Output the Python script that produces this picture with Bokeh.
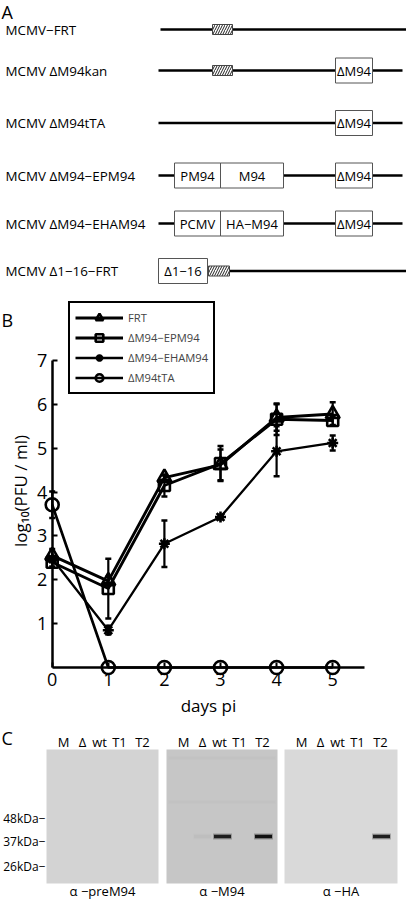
import numpy as np
from bokeh.plotting import figure
from bokeh.layouts import column
from bokeh.models import Range1d, Legend, LegendItem, LinearAxis, FixedTicker
from bokeh.core.properties import value
from bokeh.embed import file_html
from bokeh.resources import INLINE

FONT = "Open Sans"

# ---------------- data ----------------
# Panel A: constructs and their genetic elements
construct_names = ["MCMV\u2212FRT", "MCMV \u0394M94kan", "MCMV \u0394M94tTA",
                   "MCMV \u0394M94\u2212EPM94", "MCMV \u0394M94\u2212EHAM94", "MCMV \u03941\u221216\u2212FRT"]
element_labels = ["\u0394M94", "\u0394M94", "PM94", "M94", "\u0394M94",
                  "PCMV", "HA\u2212M94", "\u0394M94", "\u03941\u221216"]

# Panel B: growth curves, log10(PFU/ml) vs days pi
days = [0, 1, 2, 3, 4, 5]
frt = [2.55, 1.97, 4.33, 4.62, 5.70, 5.78]
frt_err = [0.15, 0.10, 0.05, 0.35, 0.30, 0.27]
epm94 = [2.40, 1.80, 4.15, 4.65, 5.66, 5.63]
epm94_err = [0.10, 0.68, 0.25, 0.40, 0.36, 0.10]
eham94 = [2.48, 0.85, 2.82, 3.43, 4.93, 5.12]
eham94_err = [0.05, 0.10, 0.53, 0.05, 0.57, 0.17]
tta = [3.71, 0.0, 0.0, 0.0, 0.0, 0.0]
tta_err = [0.30, 0.0, 0.0, 0.0, 0.0, 0.0]
series_names = ["FRT", "\u0394M94\u2212EPM94", "\u0394M94\u2212EHAM94", "\u0394M94tTA"]
y_ticks = [1, 2, 3, 4, 5, 6, 7]
x_ticks = [0, 1, 2, 3, 4, 5]

# Panel C: western blots
blot_titles = ["\u03b1 \u2212preM94", "\u03b1 \u2212M94", "\u03b1 \u2212HA"]
lanes = ["M", "\u0394", "wt", "T1", "T2"]
mw_labels = ["48kDa\u2212", "37kDa\u2212", "26kDa\u2212"]
band_preM94 = [0.0, 0.0, 0.0, 0.0, 0.0]
band_M94 = [0.0, 0.03, 0.9, 0.0, 1.0]
band_HA = [0.0, 0.0, 0.0, 0.0, 0.9]

# ---------------- layout (reference pixel geometry) ----------------
W = 406
hA, hB, hC = 295, 430, 174

def base_fig(height, xr, yr):
    p = figure(width=W, height=height, x_range=xr, y_range=yr,
               output_backend="svg", toolbar_location=None,
               x_axis_type=None, y_axis_type=None, min_border=0)
    p.grid.visible = False
    p.outline_line_color = None
    p.background_fill_color = "white"
    p.border_fill_color = "white"
    return p

# ---------------- Panel A ----------------
pA = base_fig(hA, Range1d(0, 406), Range1d(295, 0))
row_y = [29, 70, 122.5, 175, 223, 270.5]
line_x0 = [160, 158, 158, 158, 158, 229]
line_x1 = [406, 402, 402, 402, 402, 406]
pA.segment(x0=line_x0, y0=row_y, x1=line_x1, y1=row_y, line_color="black", line_width=2.7)

box_row = [1, 2, 3, 3, 3, 4, 4, 4, 5]
box_x0 = [335, 335, 174, 220, 335, 174, 220, 335, 158]
box_x1 = [372, 372, 220, 283, 372, 220, 283, 372, 207]
by_ = [row_y[r] for r in box_row]
pA.quad(left=box_x0, right=box_x1, top=[y - 12.5 for y in by_], bottom=[y + 12.5 for y in by_],
        fill_color="white", line_color="#555555", line_width=1)
pA.text(x=[(a + b) / 2 for a, b in zip(box_x0, box_x1)], y=by_, text=element_labels,
        text_font=value(FONT), text_font_size="13px", text_align="center",
        text_baseline="middle", text_color="black")

frt_row = [0, 1, 5]
frt_x0 = [212, 212, 208]
frt_x1 = [232, 232, 229]
fy = [row_y[r] for r in frt_row]
pA.quad(left=frt_x0, right=frt_x1, top=[y - 5 for y in fy], bottom=[y + 5 for y in fy],
        fill_color="white", line_color="#444444", line_width=1,
        hatch_pattern="/", hatch_color="#222222", hatch_scale=5, hatch_weight=1)

pA.text(x=[5] * 6, y=row_y, text=construct_names, text_font=value(FONT),
        text_font_size="13.4px", text_align="left", text_baseline="middle", text_color="black")
pA.text(x=[1], y=[11], text=["A"], text_font=value(FONT), text_font_size="18px",
        text_align="left", text_baseline="middle", text_color="black")

# ---------------- Panel B ----------------
X0PX, XUNIT = 51.7, 56.1
Y0PX, YUNIT = 667.0, 43.86
def bx(px):
    return (px - X0PX) / XUNIT
def byy(py):
    return (Y0PX - py) / YUNIT

pB = base_fig(hB, Range1d(bx(0), bx(406)), Range1d(byy(725), byy(295)))

def style_axis(ax):
    ax.axis_line_width = 2.5
    ax.axis_line_color = "black"
    ax.major_tick_in = 5
    ax.major_tick_out = 0
    ax.major_tick_line_width = 2
    ax.minor_tick_line_color = None
    ax.major_label_text_font = FONT
    ax.major_label_text_font_size = "18px"
    ax.major_label_text_color = "black"
    ax.axis_label_text_font = FONT
    ax.axis_label_text_font_size = "17px"
    ax.axis_label_text_font_style = "normal"
    ax.axis_label_text_color = "black"
    ax.major_label_standoff = 5
    ax.axis_label_standoff = 5

yaxis = LinearAxis(fixed_location=0, bounds=(0, 7), ticker=FixedTicker(ticks=y_ticks))
style_axis(yaxis)
# label carrier: no ticks of its own, centred where the reference label sits
ylabel_axis = LinearAxis(fixed_location=0, bounds=(1.06, 7), ticker=FixedTicker(ticks=[]),
                         axis_label="log\u2081\u2080(PFU / ml)")
style_axis(ylabel_axis)
ylabel_axis.axis_line_color = None
ylabel_axis.major_tick_line_color = None
ylabel_axis.axis_label_standoff = 21
xaxis = LinearAxis(fixed_location=0, bounds=(0, 5.57), ticker=FixedTicker(ticks=x_ticks),
                   axis_label="days pi")
style_axis(xaxis)
pB.add_layout(yaxis, "left")
pB.add_layout(ylabel_axis, "left")
pB.add_layout(xaxis, "below")

all_series = [
    (frt, frt_err, "triangle", 14, 2.9),
    (epm94, epm94_err, "square", 11, 2.9),
    (eham94, eham94_err, "asterisk", 11, 2.3),
    (tta, tta_err, "circle", 13, 2.7),
]
items = []
for (vals, errs, mk, sz, lw), name in zip(all_series, series_names):
    lr = pB.line(days, vals, line_color="black", line_width=lw)
    xs = [d for d, e in zip(days, errs) if e > 0]
    lo = [v - e for v, e in zip(vals, errs) if e > 0]
    hi = [v + e for v, e in zip(vals, errs) if e > 0]
    pB.segment(x0=xs, y0=lo, x1=xs, y1=hi, line_color="black", line_width=2.2)
    pB.scatter(xs + xs, lo + hi, marker="dash", size=6, line_color="black", line_width=2.5)
    mr = pB.scatter(days, vals, marker=mk, size=sz, line_color="black", line_width=2.6,
                    fill_alpha=0)
    items.append(LegendItem(label=name, renderers=[lr, mr]))

legend = Legend(items=items, location=(68, 331), orientation="vertical",
                border_line_color="black", border_line_width=2, border_line_alpha=1,
                background_fill_color="white", background_fill_alpha=1,
                label_text_font=FONT, label_text_font_size="11.2px",
                glyph_width=48, glyph_height=19, label_height=19, label_standoff=5,
                padding=5, spacing=1, margin=0)
pB.add_layout(legend)
pB.text(x=[bx(1)], y=[byy(319)], text=["B"], text_font=value(FONT), text_font_size="18px",
        text_align="left", text_baseline="middle", text_color="black")

# ---------------- Panel C ----------------
pC = base_fig(hC, Range1d(0, 406), Range1d(899, 725))
panel_left = [46, 166, 284]
panel_right = [158, 277, 397]
panel_colors = ["#d3d3d3", "#c6c6c6", "#d9d9d9"]
BT, BB = 749, 883
pC.quad(left=panel_left, right=panel_right, top=[BT] * 3, bottom=[BB] * 3,
        fill_color=panel_colors, line_color=None)
# faint background streaks on the alpha-M94 blot
pC.quad(left=[168, 168], right=[275, 275], top=[756, 800], bottom=[759, 803],
        fill_color="#888888", fill_alpha=0.07, line_color=None)

lane_off = [17, 36, 53, 73, 96]
band_off = [17, 36, 56, 74, 97]
band_y = 836
for pl, bands in zip(panel_left, [band_preM94, band_M94, band_HA]):
    pC.text(x=[pl + o for o in lane_off], y=[741] * 5, text=lanes, text_font=value(FONT),
            text_font_size="13px", text_align="center", text_baseline="middle",
            text_color="black")
    bx_ = [pl + o for o, b in zip(band_off, bands) if b > 0]
    ba = [b for b in bands if b > 0]
    if bx_:
        pC.rect(x=bx_, y=[band_y] * len(bx_), width=19, height=6, fill_color="#333333",
                fill_alpha=[0.35 * a for a in ba], line_color=None)
        pC.rect(x=bx_, y=[band_y] * len(bx_), width=17, height=3.5, fill_color="#111111",
                fill_alpha=ba, line_color=None)

pC.text(x=[45] * 3, y=[818, 841, 866], text=mw_labels, text_font=value(FONT),
        text_font_size="12px", text_align="right", text_baseline="middle", text_color="black")
pC.text(x=[(a + b) / 2 for a, b in zip(panel_left, panel_right)], y=[890] * 3, text=blot_titles,
        text_font=value(FONT), text_font_size="13px", text_align="center",
        text_baseline="middle", text_color="black")
pC.text(x=[1], y=[737], text=["C"], text_font=value(FONT), text_font_size="18px",
        text_align="left", text_baseline="middle", text_color="black")

layout = column(pA, pB, pC, spacing=0)
open("out.html", "w").write(file_html(layout, INLINE))
